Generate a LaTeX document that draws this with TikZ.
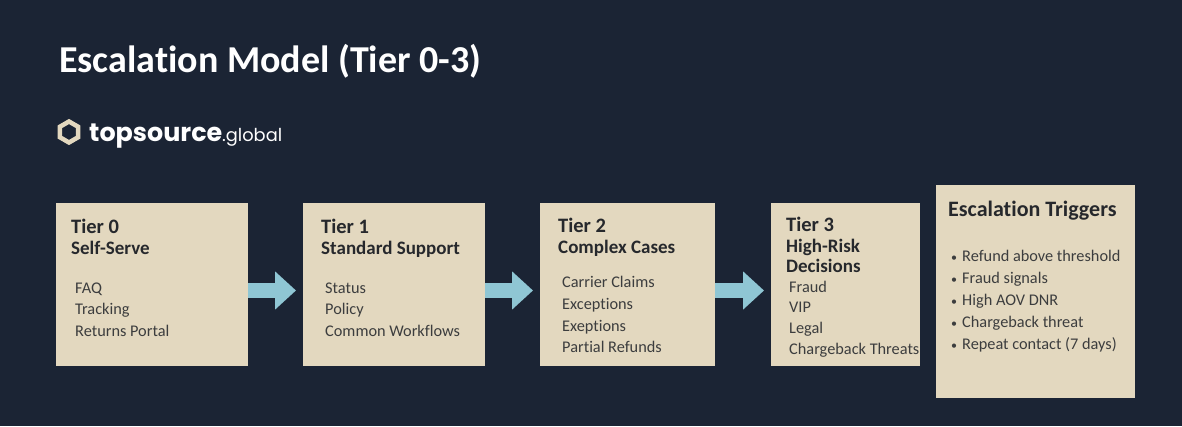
\documentclass[tikz,border=0pt]{standalone}
\usepackage{fontspec}
\setmainfont[Ligatures=NoCommon]{Carlito}
\newfontfamily\logofont{Poppins}
\usetikzlibrary{arrows.meta}
\usetikzlibrary{shapes.geometric}
\definecolor{bgdark}{HTML}{1B2434}
\definecolor{boxtan}{HTML}{E3D8BF}
\definecolor{flowblue}{HTML}{8FC6D4}
\definecolor{inkdark}{HTML}{26282C}
\definecolor{inkgrey}{HTML}{3C3D3E}
\newcommand{\bul}{\makebox[11pt][l]{\fontsize{12pt}{12pt}\selectfont•}}

\begin{document}
\begin{tikzpicture}[
                x = 1pt,
                y = -1pt,
                tier/.style = {
                    fill = boxtan,
                    minimum width = #1,
                    minimum height = 163pt,
                    inner sep = 0pt,
                    outer sep = 0pt
                },
                head/.style = {
                    anchor = base west,
                    inner sep = 0pt,
                    text = inkdark,
                    font = \fontsize{#1}{#1}\selectfont\bfseries
                },
                head/.default = 19pt,
                item/.style = {
                    anchor = base west,
                    inner sep = 0pt,
                    text = inkgrey,
                    font = \fontsize{16.3pt}{16.3pt}\selectfont
                },
                flow/.style = {
                    draw = flowblue,
                    line width = 15pt,
                    shorten > = 7pt,
                    -{Triangle[width=37pt,length=21pt]}
                }
            ]
            
            \useasboundingbox (0,0) rectangle (1182,426);
            \fill[bgdark] (0,0) rectangle (1182,426);
            
            \node[anchor=base west, inner sep=0pt, text=white, font=\fontsize{38pt}{38pt}\selectfont\bfseries] (title) at (59,72.5) {Escalation Model (Tier 0-3)};
            
            \node[regular polygon, regular polygon sides=6, shape border rotate=30, draw=boxtan, line width=4.5pt, minimum size=21pt, inner sep=0pt] (hex) at (69,132) {};
            \node[anchor=base west, inner sep=0pt, text=white, font=\logofont\fontsize{25.4pt}{25.4pt}\selectfont\bfseries] (logo) at (89,141) {topsource};
            \node[anchor=base west, inner sep=0pt, text=white, font=\logofont\fontsize{17.8pt}{17.8pt}\selectfont] (dom) at (222,141) {.global};
            
            \node[tier=192pt] (t0) at (152,284.5) {};
            \node[tier=182pt] (t1) at (394,284.5) {};
            \node[tier=175pt] (t2) at (627.5,284.5) {};
            \node[tier=149pt] (t3) at (845.5,284.5) {};
            \node[tier=199pt, minimum height=213pt] (trig) at (1035.5,291.5) {};
            
            \node[head=20.5pt] (h0) at (71,233) {Tier 0};
            \node[head] (s0) at (71,254) {Self-Serve};
            \node[item] (a0) at (75,293) {FAQ};
            \node[item] (b0) at (75,314) {Tracking};
            \node[item] (c0) at (75,336) {Returns Portal};
            
            \node[head=20.5pt] (h1) at (321,233) {Tier 1};
            \node[head] (s1) at (321,254) {Standard Support};
            \node[item] (a1) at (325,293) {Status};
            \node[item] (b1) at (325,314) {Policy};
            \node[item] (c1) at (325,336) {Common Workflows};
            
            \node[head=20.5pt] (h2) at (558,232) {Tier 2};
            \node[head] (s2) at (558,253) {Complex Cases};
            \node[item] (a2) at (562,287) {Carrier Claims};
            \node[item] (b2) at (562,309) {Exceptions};
            \node[item] (c2) at (562,331) {Exeptions};
            \node[item] (d2) at (562,352) {Partial Refunds};
            
            \node[head=20.5pt] (h3) at (786,231) {Tier 3};
            \node[head] (s3) at (786,252) {High-Risk};
            \node[head] (u3) at (786,272) {Decisions};
            \node[item] (a3) at (789,292) {Fraud};
            \node[item] (b3) at (789,312) {VIP};
            \node[item] (c3) at (789,333) {Legal};
            \node[item] (d3) at (789,354) {Chargeback Threats};
            
            \node[head=22pt] (hx) at (948,216) {Escalation Triggers};
            \node[item] (ax) at (951,261) {\bul Refund above threshold};
            \node[item] (bx) at (951,283) {\bul Fraud signals};
            \node[item] (cx) at (951,305) {\bul High AOV DNR};
            \node[item] (dx) at (951,327) {\bul Chargeback threat};
            \node[item] (ex) at (951,349) {\bul Repeat contact (7 days)};
            
            \draw[flow] ([yshift=-6pt]t0.east) -- ([yshift=-6pt]t1.west);
            \draw[flow] ([yshift=-6pt]t1.east) -- ([yshift=-6pt]t2.west);
            \draw[flow] ([yshift=-6pt]t2.east) -- ([yshift=-6pt]t3.west);
            
         \end{tikzpicture}
\end{document}
